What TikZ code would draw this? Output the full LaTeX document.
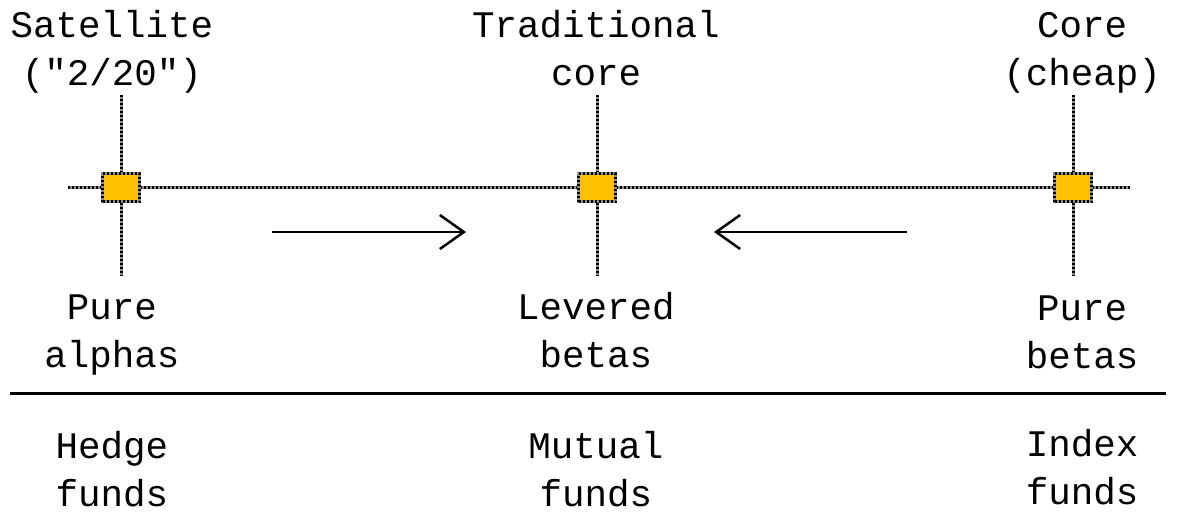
\documentclass[tikz,border=0pt]{standalone}
\usepackage{fontspec}
\setmonofont{Liberation Mono}
\usetikzlibrary{arrows.meta}
\definecolor{boxorange}{HTML}{FFC000}
\begin{document}
\begin{tikzpicture}[x=1pt,y=-1pt,
  dotbase/.style={line width=3pt,black!45},
  dotline/.style={line width=3pt,dash pattern=on 2pt off 2pt,black},
  marker/.style={fill=boxorange,minimum width=37pt,minimum height=28pt,inner sep=0pt,
    postaction={draw=black!45,line width=3pt},
    postaction={draw=black,line width=3pt,dash pattern=on 2pt off 2pt}},
  lbl/.style={font=\ttfamily\fontsize{37.5}{47.5}\selectfont,align=center,inner sep=0pt,anchor=base},
  arr/.style={line width=2.5pt,-{Straight Barb[length=24pt,width=34pt,line width=2.5pt]}}]
\useasboundingbox (0,0) rectangle (1182,512);
% axes
\coordinate (hl) at (68,187);
\coordinate (hr) at (1130,187);
\draw[dotbase] (hl) -- (hr);
\draw[dotline] (hl) -- (hr);
\foreach \n/\x in {a/121,b/597,c/1073}{
  \coordinate (\n t) at (\x,95);
  \coordinate (\n b) at (\x,276);
  \draw[dotbase] (\n t) -- (\n b);
  \draw[dotline] (\n t) -- (\n b);
  \node[marker] (\n m) at (\x,187.5) {};
}
% arrows
\coordinate (r1) at (272,232);
\coordinate (r2) at (466,232);
\coordinate (l1) at (907,232);
\coordinate (l2) at (714,232);
\draw[arr] (r1) -- (r2);
\draw[arr] (l1) -- (l2);
% separator
\coordinate (s1) at (10,393);
\coordinate (s2) at (1166,393);
\draw[line width=3pt] (s1) -- (s2);
% labels
\node[lbl] (t1) at (112,85) {Satellite\\("2/20")};
\node[lbl] (t2) at (596,85) {Traditional\\core};
\node[lbl] (t3) at (1082,85) {Core\\(cheap)};
\node[lbl] (m1) at (112,367) {Pure\\alphas};
\node[lbl] (m2) at (596,367) {Levered\\betas};
\node[lbl] (m3) at (1082,368) {Pure\\betas};
\node[lbl] (b1) at (112,506) {Hedge\\funds};
\node[lbl] (b2) at (596,506) {Mutual\\funds};
\node[lbl] (b3) at (1082,504) {Index\\funds};
\end{tikzpicture}
\end{document}
